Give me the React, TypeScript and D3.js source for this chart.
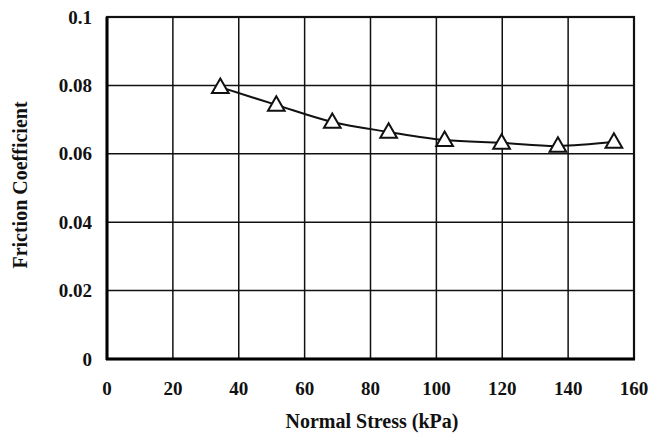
import React from "react";
import * as d3 from "d3";

const normalStress = [34.4, 51.4, 68.4, 85.5, 102.5, 119.8, 136.9, 153.9];
const frictionCoef = [0.0795, 0.0743, 0.0693, 0.0664, 0.064, 0.0632, 0.0623, 0.0635];
const xTicks = [0, 20, 40, 60, 80, 100, 120, 140, 160];
const yTicks = [0, 0.02, 0.04, 0.06, 0.08, 0.1];
const yTickLabels = ["0", "0.02", "0.04", "0.06", "0.08", "0.1"];

const W = 649, H = 433;
const left = 107, right = 634, top = 17, bottom = 359;

export default function App() {
  const x = d3.scaleLinear().domain([0, 160]).range([left, right]);
  const y = d3.scaleLinear().domain([0, 0.1]).range([bottom, top]);
  const pts = normalStress.map((v, i) => [x(v), y(frictionCoef[i])] as [number, number]);
  const line = d3.line().curve(d3.curveCatmullRom.alpha(0.5))(pts) || "";
  const tri = d3.symbol().type(d3.symbolTriangle).size(120)() || "";
  const font = "'Liberation Serif', 'Times New Roman', serif";
  return (
    <svg width={W} height={H} style={{ position: "absolute", left: 0, top: 0, background: "#fff" }}>
      <rect x={0} y={0} width={W} height={H} fill="#fff" />
      {xTicks.map((t) => (
        <line key={"gx" + t} x1={x(t)} x2={x(t)} y1={top} y2={bottom} stroke="#111" strokeWidth={1.5} />
      ))}
      {yTicks.map((t) => (
        <line key={"gy" + t} x1={left} x2={right} y1={y(t)} y2={y(t)} stroke="#111" strokeWidth={1.5} />
      ))}
      <rect x={left} y={top} width={right - left} height={bottom - top} fill="none" stroke="#111" strokeWidth={2.2} />
      <line x1={left} x2={left} y1={top} y2={bottom + 1} stroke="#000" strokeWidth={3} />
      <line x1={left - 1} x2={right + 1} y1={bottom} y2={bottom} stroke="#000" strokeWidth={3} />
      <path d={line} fill="none" stroke="#111" strokeWidth={2} />
      {pts.map((p, i) => (
        <path key={"m" + i} d={tri} transform={`translate(${p[0]},${p[1] + 1})`} fill="#fff" stroke="#111" strokeWidth={2} />
      ))}
      {yTicks.map((t, i) => (
        <text key={"yl" + t} x={92} y={y(t)} dy="0.35em" textAnchor="end" fontFamily={font} fontSize={19} fontWeight="bold" fill="#111">
          {yTickLabels[i]}
        </text>
      ))}
      {xTicks.map((t) => (
        <text key={"xl" + t} x={x(t)} y={395} textAnchor="middle" fontFamily={font} fontSize={19} fontWeight="bold" fill="#111">
          {t}
        </text>
      ))}
      <text x={372} y={428} textAnchor="middle" fontFamily={font} fontSize={20} fontWeight="bold" fill="#111">
        Normal Stress (kPa)
      </text>
      <text transform={`translate(27,185) rotate(-90)`} textAnchor="middle" fontFamily={font} fontSize={20} fontWeight="bold" fill="#111">
        Friction Coefficient
      </text>
    </svg>
  );
}
